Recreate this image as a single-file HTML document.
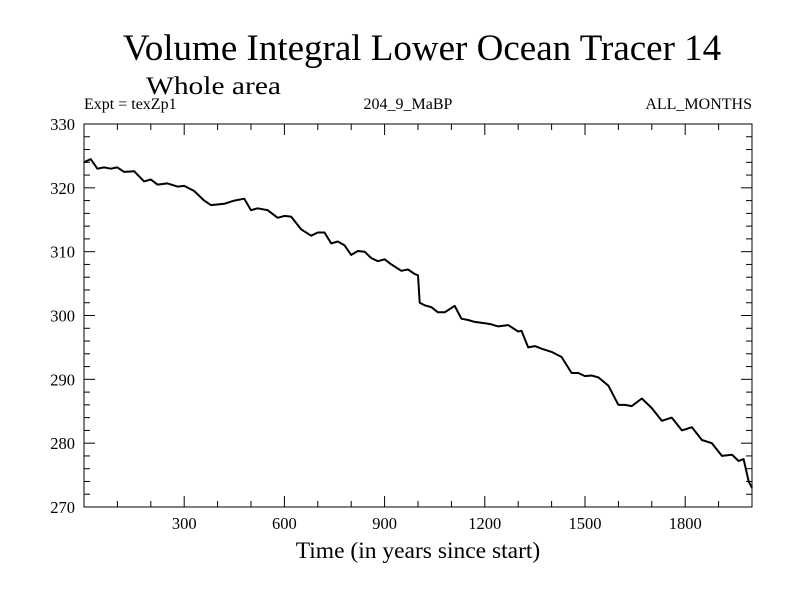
<!DOCTYPE html>
<html><head><meta charset="utf-8"><style>
body{margin:0;background:#fff}
svg text{font-family:"Liberation Serif",serif;fill:#000}
</style></head><body>
<svg id="c" width="800" height="600">
<text x="422" y="60" font-size="37" text-anchor="middle">Volume Integral Lower Ocean Tracer 14</text>
<text x="146" y="94" font-size="25" textLength="135" lengthAdjust="spacingAndGlyphs">Whole area</text>
<text x="84" y="109" font-size="16">Expt = texZp1</text>
<text x="408" y="109" font-size="16" text-anchor="middle">204_9_MaBP</text>
<text x="752" y="109" font-size="16" text-anchor="end">ALL_MONTHS</text>
<text x="418" y="558" font-size="23.5" text-anchor="middle">Time (in years since start)</text>
<rect x="84" y="124" width="668" height="383" fill="none" stroke="#000" stroke-width="1"/>
<g id="ax"></g>
<path id="ln" fill="none" stroke="#000" stroke-width="2" stroke-linejoin="round"/>
</svg>
<script>
const years=[0,20,40,60,80,100,120,150,180,200,220,250,280,300,330,360,380,420,450,480,500,520,550,580,600,620,650,680,700,720,740,760,780,800,820,840,860,880,900,920,950,970,990,1000,1005,1020,1040,1060,1080,1110,1130,1150,1170,1200,1220,1240,1270,1300,1310,1330,1350,1370,1400,1430,1460,1480,1500,1520,1540,1570,1600,1620,1640,1670,1700,1730,1760,1790,1820,1850,1880,1910,1940,1960,1975,1990,2000];
const values=[324,324.5,323,323.2,323,323.2,322.5,322.6,321,321.3,320.5,320.7,320.2,320.3,319.5,318,317.3,317.5,318,318.3,316.5,316.8,316.5,315.3,315.6,315.5,313.5,312.5,313,313,311.3,311.6,311,309.5,310.1,310,309,308.5,308.8,308,307,307.2,306.5,306.3,302,301.6,301.3,300.5,300.5,301.5,299.5,299.3,299,298.8,298.6,298.3,298.5,297.5,297.6,295,295.2,294.8,294.3,293.5,291,291,290.5,290.6,290.3,289,286,286,285.8,287,285.5,283.5,284,282,282.5,280.5,280,278,278.2,277.2,277.5,274,273];
const xTicks=[300,600,900,1200,1500,1800];
const yTicks=[270,280,290,300,310,320,330];
const L=84,R=752,T=124,B=507,X0=0,X1=2000,Y0=270,Y1=330;
const xs=v=>L+(v-X0)/(X1-X0)*(R-L);
const ys=v=>B-(v-Y0)/(Y1-Y0)*(B-T);
const ns="http://www.w3.org/2000/svg",ax=document.getElementById('ax');
function mk(t,a){const e=document.createElementNS(ns,t);for(const k in a)e.setAttribute(k,a[k]);ax.appendChild(e);return e;}
for(let v=100;v<X1;v+=100){const maj=xTicks.includes(v),h=maj?11:6;
const t1=mk('line',{x1:xs(v),x2:xs(v),y1:B,y2:B-h,stroke:'#000'});

const t2=mk('line',{x1:xs(v),x2:xs(v),y1:T,y2:T+h,stroke:'#000'});
}
xTicks.forEach(v=>{const t=mk('text',{x:xs(v),y:B+22,'font-size':16.5,'text-anchor':'middle'});t.textContent=v;
});
for(let v=Y0+2;v<Y1;v+=2){const maj=yTicks.includes(v),h=maj?11:6;
const t1=mk('line',{x1:L,x2:L+h,y1:ys(v),y2:ys(v),stroke:'#000'});

const t2=mk('line',{x1:R,x2:R-h,y1:ys(v),y2:ys(v),stroke:'#000'});
}
yTicks.forEach(v=>{const t=mk('text',{x:L-9,y:ys(v)+6,'font-size':16.5,'text-anchor':'end'});t.textContent=v;
});
document.getElementById('ln').setAttribute('d',years.map((y,i)=>(i?'L':'M')+xs(y).toFixed(1)+' '+ys(values[i]).toFixed(1)).join(''));
</script>
</body></html>
